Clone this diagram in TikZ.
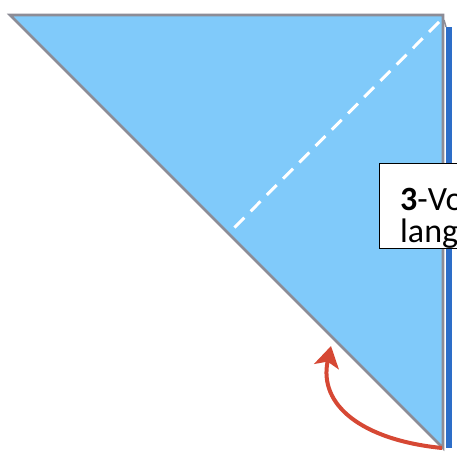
\documentclass[tikz,border=0pt]{standalone}
\usepackage{fontspec}
\setmainfont{Carlito}
\usetikzlibrary{arrows.meta}
\definecolor{paper}{RGB}{128,202,250}
\definecolor{edge}{RGB}{140,140,150}
\definecolor{strip}{RGB}{45,110,200}
\definecolor{arrowred}{RGB}{214,72,52}
\tikzset{
  edgeline/.style={draw=edge,line width=2.6pt,line join=miter},
  foldline/.style={draw=white,line width=3pt,dash pattern=on 14pt off 9pt},
  labelbox/.style={draw=black,fill=white,line width=1.4pt},
  labeltext/.style={anchor=base west,inner sep=0pt,font=\fontsize{34}{40}\selectfont},
  turnarrow/.style={draw=arrowred,line width=4pt,-{Stealth[length=21pt,width=25pt,inset=5pt]}}
}
\begin{document}
\begin{tikzpicture}[x=1pt,y=-1pt]
\useasboundingbox (0,0) rectangle (457,455);
\clip (0,0) rectangle (457,455);
\coordinate (tl) at (10,15);
\coordinate (tr) at (443,15);
\coordinate (br) at (443,448);
% back strip
\fill[strip] (446,27) rectangle (452,448);
\draw[edge,line width=1.5pt] (444,20) -- (446,27);
% paper
\fill[paper] (tl) -- (tr) -- (br) -- cycle;
\draw[edgeline] (tl) -- (tr) -- (br) -- cycle;
% fold line
\coordinate (fa) at (439,22);
\coordinate (fb) at (229,233);
\draw[foldline] (fa) -- (fb);
% label
\node[labelbox,minimum width=120pt,minimum height=85pt,anchor=north west] (box) at (379,163) {};
\node[labeltext] (l1) at (400,210) {\textbf{3}-Vo};
\node[labeltext] (l2) at (400,242) {lang};
% arrow
\coordinate (as) at (442,448);
\coordinate (ae) at (331,346);
\draw[turnarrow] (as) .. controls (362,440) and (318,405) .. (ae);
\end{tikzpicture}
\end{document}
